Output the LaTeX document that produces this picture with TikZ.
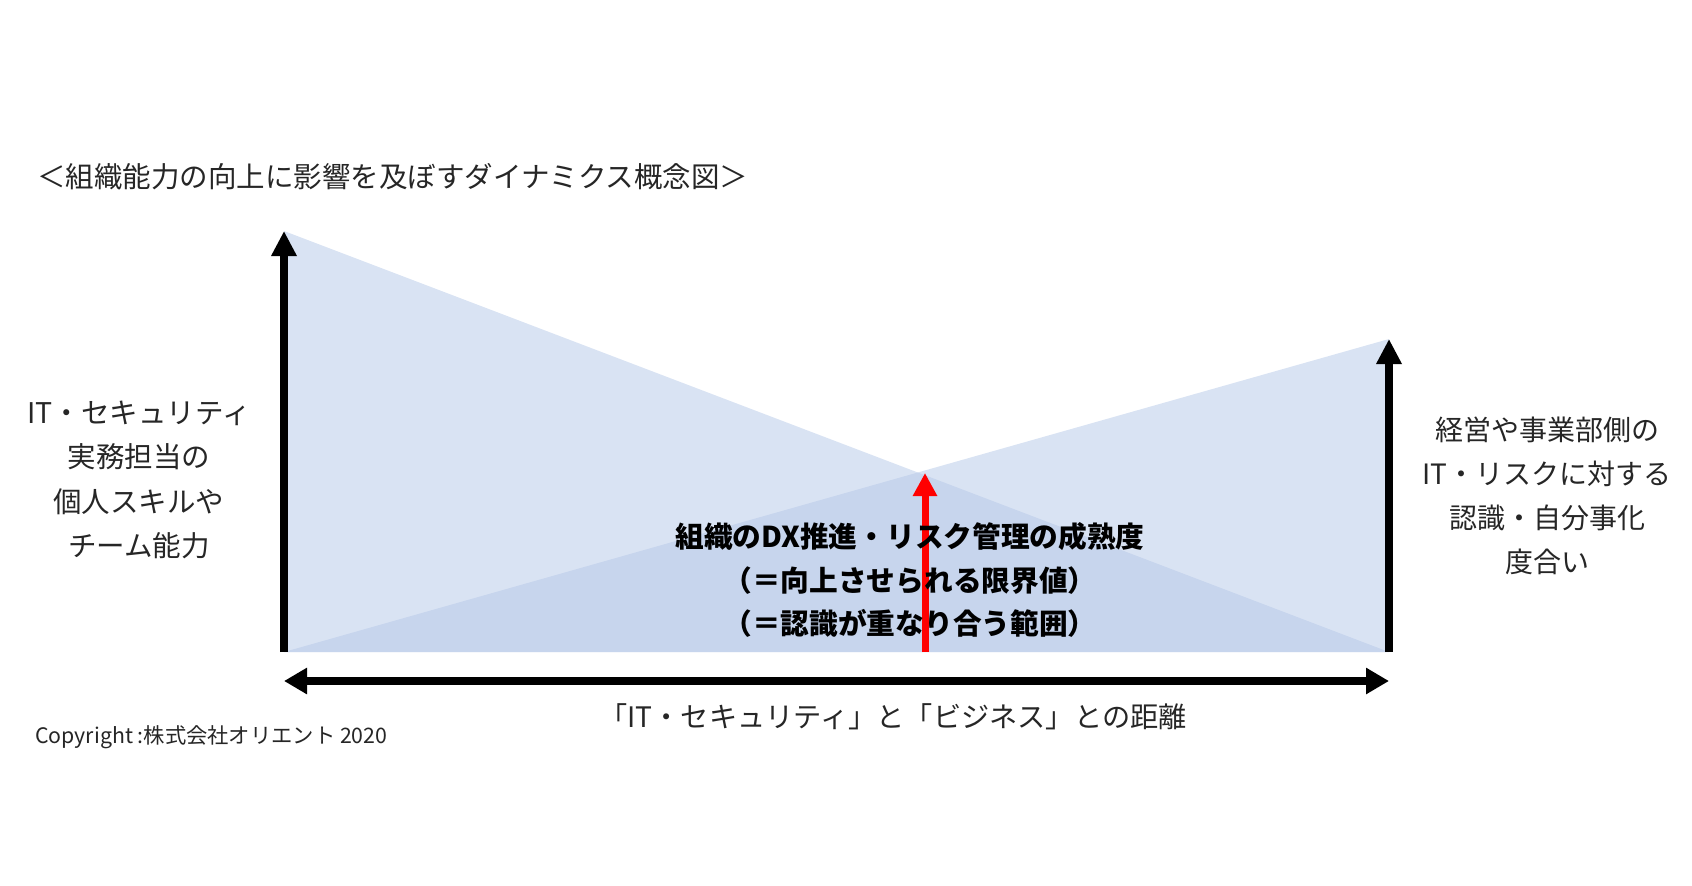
\documentclass[tikz,border=0pt]{standalone}
\usepackage{fontspec}
\setmainfont{Noto Sans CJK JP}
\usetikzlibrary{arrows.meta}
\definecolor{areablue}{HTML}{B4C7E7}
\definecolor{txtgray}{HTML}{262626}
\begin{document}
\begin{tikzpicture}[x=1pt,y=-1pt,
    axis/.style={line width=8pt,-{Triangle[length=25pt,width=24pt]}},
    area/.style={fill=areablue,fill opacity=0.5},
    lbl/.style={text=txtgray,align=center,inner sep=0pt}]
    \useasboundingbox (0,0) rectangle (1692,886);
    \coordinate (O) at (284,652);
    \coordinate (L) at (284,231);
    \coordinate (B) at (1389,652);
    \coordinate (R) at (1389,339);
    \coordinate (X) at (925,473);
    \coordinate (Xb) at (925,652);
    \coordinate (HL) at (284,681);
    \coordinate (HR) at (1389,681);
    \fill[area] (L) -- (O) -- (B) -- cycle;
    \fill[area] (R) -- (B) -- (O) -- cycle;
    \draw[axis] (O) -- (L);
    \draw[axis] (B) -- (R);
    \draw[line width=8pt,{Triangle[length=23pt,width=25pt]}-{Triangle[length=23pt,width=25pt]}] (HL) -- (HR);
    \draw[red,line width=7pt,-{Triangle[length=23pt,width=23pt]}] (Xb) -- (X);
    \node[lbl,anchor=west,font=\fontsize{28.5}{32}\selectfont] (title) at (37,177) {＜組織能力の向上に影響を及ぼすダイナミクス概念図＞};
    \node[lbl,font=\fontsize{28.5}{44.5}\selectfont] (left) at (139,480) {IT・セキュリティ\\実務担当の\\個人スキルや\\チーム能力};
    \node[lbl,font=\fontsize{28}{44}\selectfont] (right) at (1547,496) {経営や事業部側の\\IT・リスクに対する\\認識・自分事化\\度合い};
    \node[lbl,text=black,font=\bfseries\fontsize{28.7}{43.5}\selectfont] (center) at (910,580) {組織のDX推進・リスク管理の成熟度\\（＝向上させられる限界値）\\（＝認識が重なり合う範囲）};
    \node[lbl,font=\fontsize{28.2}{32}\selectfont] (dist) at (893,717) {「IT・セキュリティ」と「ビジネス」との距離};
    \node[lbl,anchor=west,font=\fontsize{21.3}{25}\selectfont] (copy) at (35,737) {Copyright :株式会社オリエント 2020};
\end{tikzpicture}
\end{document}
